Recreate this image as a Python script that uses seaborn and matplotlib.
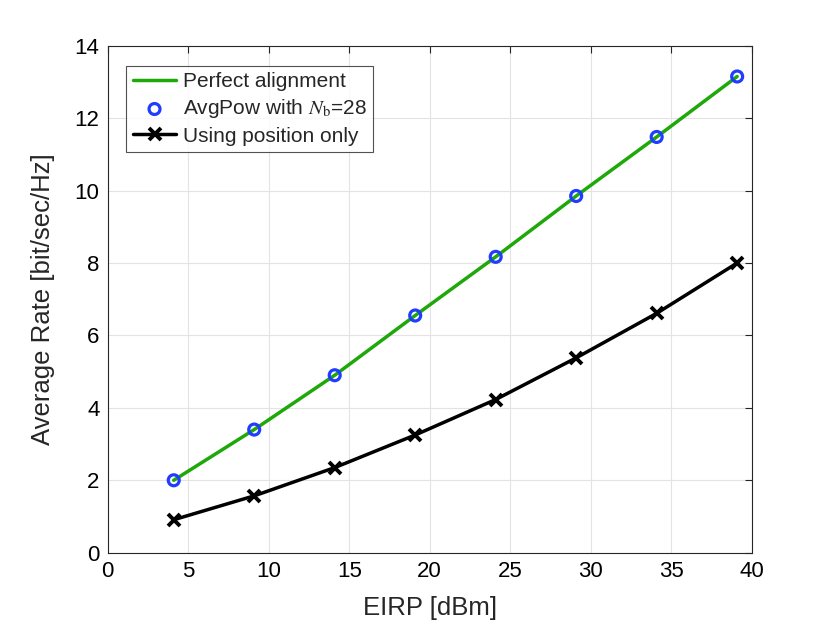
import matplotlib
matplotlib.use("Agg")
import matplotlib.pyplot as plt
import seaborn as sns
import pandas as pd

eirp = [4.1, 9.1, 14.1, 19.1, 24.1, 29.1, 34.1, 39.1]
perfect = [2.0, 3.4, 4.9, 6.55, 8.17, 9.85, 11.48, 13.15]
avgpow = [2.0, 3.4, 4.9, 6.55, 8.17, 9.85, 11.48, 13.15]
position_only = [0.91, 1.57, 2.35, 3.25, 4.23, 5.38, 6.61, 8.0]

sns.set_style("white")
plt.rcParams['font.family'] = ['Liberation Sans', 'DejaVu Sans']
plt.rcParams['mathtext.fontset'] = 'stix'

fig = plt.figure(figsize=(8.3, 6.26), dpi=100)
ax = fig.add_axes([0.1298, 0.1171, 0.9056 - 0.1298, 0.927 - 0.1171])

df = pd.DataFrame({"x": eirp, "perfect": perfect, "avg": avgpow, "pos": position_only})

sns.lineplot(data=df, x="x", y="perfect", ax=ax, color="#1EA80A", lw=2.5,
             label="Perfect alignment")
sns.scatterplot(data=df, x="x", y="avg", ax=ax, marker="o", s=62,
                facecolor="none", edgecolor="#1F3CFF", linewidth=2.3,
                label=r"AvgPow with $N_\mathrm{b}$=28", zorder=5)
sns.lineplot(data=df, x="x", y="pos", ax=ax, color="black", lw=2.5,
             marker="x", markersize=8.5, markeredgewidth=2.8,
             markeredgecolor="black", markerfacecolor="black",
             label="Using position only")

ax.set_xlim(0, 40)
ax.set_ylim(0, 14)
ax.set_xticks(range(0, 41, 5))
ax.set_yticks(range(0, 15, 2))
ax.grid(True, color="#E3E3E3", lw=0.8)
ax.set_axisbelow(True)
for s in ax.spines.values():
    s.set_color("#262626")
    s.set_linewidth(0.8)
ax.tick_params(direction="in", length=5, width=0.8, top=True, right=True,
               labelsize=16, colors="#262626", pad=6)
ax.tick_params(axis="both", labelcolor="black")
ax.set_xlabel("EIRP [dBm]", fontsize=18.5, labelpad=10)
ax.set_ylabel("Average Rate [bit/sec/Hz]", fontsize=18.5, labelpad=14)

leg = ax.legend(loc="upper left", bbox_to_anchor=(0.029, 0.96), fontsize=15,
                frameon=True, fancybox=False, edgecolor="#262626",
                borderpad=0.3, labelspacing=0.3, handlelength=2.1,
                handletextpad=0.3, borderaxespad=0)
leg.get_frame().set_linewidth(0.8)

fig.savefig("out.png", dpi=100)
